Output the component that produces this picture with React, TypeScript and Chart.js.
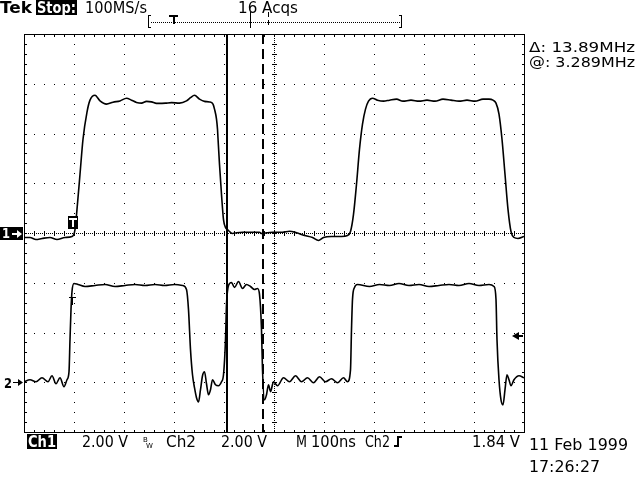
import React, { useEffect, useRef } from "react";
import { Chart, registerables } from "chart.js";

Chart.register(...registerables);

// Channel 1 (2.00 V/div, ground at centre), time in ns (100 ns/div)
const ch1Time = [0, 12, 24, 36, 52, 66, 82, 96, 102, 106, 112, 118, 126, 132, 142, 152, 165, 178, 192, 205, 215, 225, 235, 245, 255, 265, 271, 283, 295, 311, 325, 333, 341, 351, 361, 371, 378, 381, 385, 387, 388, 391, 395, 399, 403, 407, 411, 417, 425, 437, 451, 471, 475, 485, 497, 517, 531, 545, 561, 577, 589, 599, 615, 635, 647, 653, 659, 665, 671, 677, 683, 689, 697, 707, 719, 731, 745, 758, 774, 790, 806, 822, 838, 854, 870, 886, 902, 918, 930, 938, 944, 950, 956, 962, 968, 974, 980, 988, 1000];
const ch1Volts = [-0.18, -0.18, -0.26, -0.22, -0.18, -0.26, -0.18, -0.14, 0.14, 0.95, 2.36, 3.77, 4.86, 5.34, 5.54, 5.31, 5.18, 5.26, 5.31, 5.42, 5.34, 5.25, 5.22, 5.29, 5.27, 5.21, 5.21, 5.22, 5.24, 5.22, 5.31, 5.44, 5.54, 5.38, 5.29, 5.27, 5.18, 4.98, 4.58, 4.17, 3.81, 2.76, 1.55, 0.54, 0.22, 0.14, 0.06, -0.02, 0.01, 0.03, 0.03, 0.03, -0.02, 0.01, 0.03, 0.03, 0.07, 0.01, -0.10, -0.18, -0.30, -0.18, -0.14, -0.14, -0.10, 0.06, 0.75, 1.96, 3.37, 4.38, 4.98, 5.30, 5.42, 5.34, 5.30, 5.34, 5.38, 5.30, 5.34, 5.30, 5.34, 5.30, 5.38, 5.34, 5.30, 5.34, 5.30, 5.38, 5.38, 5.34, 5.22, 4.78, 3.77, 2.36, 0.95, 0.06, -0.18, -0.22, -0.14];

// Channel 2 (2.00 V/div, ground three divisions below centre)
const ch2Time = [0, 12, 24, 36, 48, 56, 64, 72, 80, 86, 90, 92, 94, 96, 100, 108, 122, 142, 162, 182, 202, 222, 242, 262, 281, 301, 317, 325, 329, 333, 337, 341, 345, 349, 353, 357, 361, 365, 369, 373, 377, 383, 389, 395, 399, 403, 405, 409, 415, 421, 429, 437, 445, 453, 461, 467, 471, 475, 477, 481, 485, 489, 493, 499, 507, 519, 531, 543, 555, 567, 579, 591, 603, 615, 627, 639, 647, 653, 655, 657, 661, 667, 691, 711, 731, 750, 770, 790, 810, 830, 850, 870, 890, 910, 930, 940, 944, 946, 950, 954, 958, 962, 966, 970, 974, 980, 990, 1000];
const ch2Volts = [0.02, 0.10, 0.02, 0.18, 0.02, 0.26, -0.06, 0.18, -0.18, 0.10, 0.42, 1.71, 2.92, 3.65, 3.97, 3.93, 3.85, 3.89, 3.93, 3.85, 3.89, 3.93, 3.89, 3.93, 3.89, 3.93, 3.89, 3.73, 2.92, 1.31, 0.30, -0.22, -0.62, -0.79, -0.30, 0.26, 0.42, -0.06, -0.50, -0.30, 0.10, -0.10, -0.14, 0.02, 0.30, 1.71, 3.12, 3.89, 4.01, 3.81, 4.05, 3.77, 3.93, 3.85, 3.73, 3.77, 3.53, 2.12, 0.50, -0.71, -0.50, -0.10, -0.38, 0.02, -0.14, 0.18, 0.02, 0.26, 0.02, 0.18, -0.02, 0.22, 0.02, 0.14, -0.02, 0.18, 0.02, 0.50, 2.12, 3.33, 3.81, 3.93, 3.85, 3.93, 3.89, 3.97, 3.89, 3.93, 3.85, 3.89, 3.93, 3.89, 3.97, 3.89, 3.93, 3.85, 3.33, 1.71, 0.10, -0.71, -0.91, -0.30, 0.30, 0.10, -0.14, 0.10, 0.26, 0.18];

const timeRange = [0, 1000];
const ch1Range = [-8, 8];
const ch2Range = [-2, 14];
const cursorTimes = [404, 476];
const triggerTime = 96;
const ch2TriggerLevel = 1.84;

const headerTexts = ["Tek", "Stop:", "100MS/s", "16 Acqs"];
const readoutTexts = ["\u0394: 13.89MHz", "@: 3.289MHz"];
const footerTexts = ["Ch1", "2.00 V", "Ch2", "2.00 V", "M", "100ns", "Ch2", "1.84 V"];
const dateTexts = ["11 Feb 1999", "17:26:27"];

const FONT = '"DejaVu Sans", "Liberation Sans", sans-serif';

function fitText(ctx: CanvasRenderingContext2D, s: string, x: number, base: number, width: number, size: number, bold = false, color = "#000") {
  ctx.save();
  ctx.font = `${bold ? "bold " : ""}${size}px ${FONT}`;
  ctx.fillStyle = color;
  ctx.textBaseline = "alphabetic";
  ctx.textAlign = "left";
  const w = ctx.measureText(s).width;
  ctx.translate(x, base);
  ctx.scale(width / w, 1);
  ctx.fillText(s, 0, 0);
  ctx.restore();
}

const scopePlugin = {
  id: "scope",
  beforeDatasetsDraw(chart: any) {
    const ctx: CanvasRenderingContext2D = chart.ctx;
    const { left, right, top, bottom } = chart.chartArea;
    const xs = chart.scales.x;
    const y1 = chart.scales.y1;
    const px = (v: number) => Math.round(xs.getPixelForValue(v));
    const py = (v: number) => Math.round(y1.getPixelForValue(v));
    ctx.save();
    ctx.fillStyle = "#000";
    // major grid lines made of dots at every minor division
    for (let i = 1; i < 10; i++) {
      if (i === 5) continue;
      const x = px(i * 100);
      for (let k = 0; k <= 40; k++) ctx.fillRect(x, py(-8 + k * 0.4), 1, 1);
    }
    for (let j = 1; j < 8; j++) {
      if (j === 4) continue;
      const y = py(-8 + j * 2);
      for (let k = 0; k <= 50; k++) ctx.fillRect(px(k * 20), y, 1, 1);
    }
    // centre lines
    const cx = px(500);
    const cy = py(0);
    for (let y = top; y <= bottom; y += 2) ctx.fillRect(cx, y, 1, 1);
    for (let x = left; x <= right; x += 2) ctx.fillRect(x, cy, 1, 1);
    for (let k = 0; k <= 40; k++) ctx.fillRect(cx - 2, py(-8 + k * 0.4), 5, 1);
    for (let k = 0; k <= 50; k++) ctx.fillRect(px(k * 20), cy - 2, 1, 5);
    // border with inward ticks
    ctx.fillRect(left, top, right - left + 1, 1);
    ctx.fillRect(left, bottom, right - left + 1, 1);
    ctx.fillRect(left, top, 1, bottom - top + 1);
    ctx.fillRect(right, top, 1, bottom - top + 1);
    for (let k = 0; k <= 50; k++) {
      const x = px(k * 20);
      ctx.fillRect(x, top + 1, 1, 2);
      ctx.fillRect(x, bottom - 2, 1, 2);
    }
    for (let k = 0; k <= 40; k++) {
      const y = py(-8 + k * 0.4);
      ctx.fillRect(left + 1, y, 2, 1);
      ctx.fillRect(right - 2, y, 2, 1);
    }
    // cursors
    const c1 = px(cursorTimes[0]);
    const c2 = px(cursorTimes[1]);
    ctx.fillRect(c1, top, 2, bottom - top);
    for (let y = top; y < bottom; y += 15) ctx.fillRect(c2, y, 2, Math.min(10, bottom - y));
    ctx.restore();
  },
  afterDraw(chart: any) {
    const ctx: CanvasRenderingContext2D = chart.ctx;
    const xs = chart.scales.x;
    const y1 = chart.scales.y1;
    const y2 = chart.scales.y2;
    ctx.save();
    ctx.fillStyle = "#000";
    // header
    fitText(ctx, headerTexts[0], 0, 13, 32, 16, true);
    ctx.fillRect(36, 0, 41, 15);
    fitText(ctx, headerTexts[1], 37, 13, 39, 15, true, "#fff");
    fitText(ctx, headerTexts[2], 85, 13, 62, 16);
    fitText(ctx, headerTexts[3], 238, 13, 60, 16);
    // record bar
    ctx.fillRect(148, 15, 1, 13);
    ctx.fillRect(148, 15, 3, 1);
    ctx.fillRect(148, 27, 3, 1);
    ctx.fillRect(401, 15, 1, 13);
    ctx.fillRect(399, 15, 3, 1);
    ctx.fillRect(399, 27, 3, 1);
    for (let x = 151; x < 400; x += 2) ctx.fillRect(x, 22, 1, 1);
    ctx.fillRect(169, 15, 9, 2);
    ctx.fillRect(173, 15, 2, 9);
    ctx.fillRect(250, 12, 1, 16);
    ctx.fillRect(268, 12, 1, 5);
    ctx.fillRect(268, 20, 1, 5);
    // readouts
    fitText(ctx, readoutTexts[0], 529, 52, 106, 14);
    fitText(ctx, readoutTexts[1], 529, 67, 106, 14);
    // footer
    ctx.fillRect(27, 434, 30, 15);
    fitText(ctx, footerTexts[0], 28, 447, 28, 15, true, "#fff");
    fitText(ctx, footerTexts[1], 82, 447, 46, 15);
    ctx.save();
    ctx.font = `7px ${FONT}`;
    ctx.fillText("B", 143, 442);
    ctx.fillText("W", 146, 448);
    ctx.restore();
    fitText(ctx, footerTexts[2], 166, 447, 30, 15);
    fitText(ctx, footerTexts[3], 221, 447, 46, 15);
    fitText(ctx, footerTexts[4], 296, 447, 11, 15);
    fitText(ctx, footerTexts[5], 311, 447, 45, 15);
    fitText(ctx, footerTexts[6], 365, 447, 25, 15);
    // rising edge symbol
    ctx.fillRect(394, 445, 4, 2);
    ctx.fillRect(397, 436, 2, 11);
    ctx.fillRect(397, 436, 5, 2);
    fitText(ctx, footerTexts[7], 472, 447, 48, 15);
    fitText(ctx, dateTexts[0], 529, 450, 99, 15);
    fitText(ctx, dateTexts[1], 529, 472, 71, 15);
    // channel ground markers
    const g1 = Math.round(y1.getPixelForValue(0));
    ctx.fillRect(0, g1 - 6, 23, 13);
    fitText(ctx, "1", 2, g1 + 5, 8, 14, true, "#fff");
    ctx.fillStyle = "#fff";
    ctx.fillRect(12, g1, 8, 2);
    ctx.beginPath();
    ctx.moveTo(22, g1 + 1);
    ctx.lineTo(17, g1 - 3);
    ctx.lineTo(17, g1 + 5);
    ctx.closePath();
    ctx.fill();
    ctx.fillStyle = "#000";
    const g2 = Math.round(y2.getPixelForValue(0));
    fitText(ctx, "2", 4, g2 + 6, 8, 14, true);
    ctx.fillRect(13, g2, 7, 1);
    ctx.beginPath();
    ctx.moveTo(23, g2 + 0.5);
    ctx.lineTo(18, g2 - 3);
    ctx.lineTo(18, g2 + 4);
    ctx.closePath();
    ctx.fill();
    // trigger markers
    const tx = Math.round(xs.getPixelForValue(triggerTime));
    ctx.fillRect(tx - 4, 216, 10, 13);
    ctx.fillStyle = "#fff";
    ctx.fillRect(tx - 3, 218, 8, 2);
    ctx.fillRect(tx, 218, 2, 9);
    ctx.fillStyle = "#000";
    ctx.fillRect(tx - 3, 297, 7, 1);
    ctx.fillRect(tx, 297, 1, 8);
    // ch2 trigger level arrow
    const tl = Math.round(y2.getPixelForValue(ch2TriggerLevel));
    ctx.fillRect(518, tl - 1, 5, 2);
    ctx.beginPath();
    ctx.moveTo(512, tl);
    ctx.lineTo(519, tl - 4);
    ctx.lineTo(519, tl + 4);
    ctx.closePath();
    ctx.fill();
    ctx.restore();
  },
};

export default function App() {
  const ref = useRef<HTMLCanvasElement>(null);
  useEffect(() => {
    document.body.style.margin = "0";
    const canvas = ref.current!;
    const chart = new Chart(canvas, {
      type: "line",
      data: {
        datasets: [
          {
            data: ch1Time.map((t, i) => ({ x: t, y: ch1Volts[i] })),
            yAxisID: "y1",
            borderColor: "#000",
            borderWidth: 1.6,
            pointRadius: 0,
            cubicInterpolationMode: "monotone",
          },
          {
            data: ch2Time.map((t, i) => ({ x: t, y: ch2Volts[i] })),
            yAxisID: "y2",
            borderColor: "#000",
            borderWidth: 1.6,
            pointRadius: 0,
            cubicInterpolationMode: "monotone",
          },
        ],
      },
      options: {
        responsive: false,
        animation: false,
        events: [],
        layout: { padding: { left: 24, top: 34, right: 116, bottom: 48 } },
        plugins: { legend: { display: false }, tooltip: { enabled: false } },
        scales: {
          x: { type: "linear", min: timeRange[0], max: timeRange[1], display: false },
          y1: { type: "linear", min: ch1Range[0], max: ch1Range[1], display: false },
          y2: { type: "linear", min: ch2Range[0], max: ch2Range[1], display: false },
        },
      },
      plugins: [scopePlugin],
    });
    return () => chart.destroy();
  }, []);
  return (
    <div style={{ width: 640, height: 480, background: "#fff" }}>
      <canvas ref={ref} width={640} height={480} style={{ display: "block" }} />
    </div>
  );
}
